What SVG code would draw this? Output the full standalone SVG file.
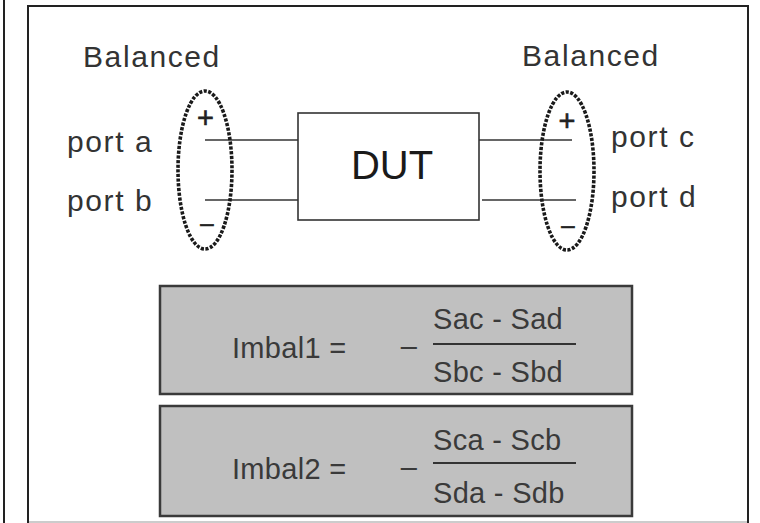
<svg xmlns="http://www.w3.org/2000/svg" width="760" height="523" viewBox="0 0 760 523">
<style>
.lbl{font-family:"Liberation Sans",Arial,sans-serif;font-size:30px;fill:#333;letter-spacing:1.6px}
.fx{font-family:"Liberation Sans",Arial,sans-serif;font-size:29px;fill:#3a3a3a;letter-spacing:0.3px}
.wire{stroke:#333;stroke-width:1.6;fill:none}
.bal{fill:none;stroke:#1a1a1a;stroke-width:3.6;stroke-dasharray:3.2 1.5}
.box{fill:#c0c0c0;stroke:#3a3a3a;stroke-width:2.5}
.sign{font-family:"Liberation Sans",Arial,sans-serif;fill:#222;stroke:#222;stroke-width:0.6}
</style>
<rect x="0" y="0" width="760" height="523" fill="#fff"/>
<g id="frame">
<line x1="4" y1="0" x2="4" y2="523" stroke="#222" stroke-width="2"/>
<path d="M28 523 V6 H748 V523" fill="none" stroke="#222" stroke-width="2"/>
<line x1="29" y1="522" x2="747" y2="522" stroke="#bbb" stroke-width="1.5"/>
</g>
<g id="connectors">
<line class="wire" x1="205" y1="140" x2="298" y2="140"/>
<line class="wire" x1="205" y1="200" x2="298" y2="200"/>
<line class="wire" x1="479" y1="140" x2="572" y2="140"/>
<line class="wire" x1="482" y1="200" x2="576" y2="200"/>
</g>
<g id="dut">
<rect x="298" y="113" width="181" height="107" fill="#fff" stroke="#333" stroke-width="1.6"/>
<text x="392" y="179" text-anchor="middle" font-family="'Liberation Sans',Arial,sans-serif" font-size="40" fill="#1a1a1a">DUT</text>
</g>
<g id="left-port">
<text class="lbl" x="83" y="67">Balanced</text>
<text class="lbl" x="67" y="152">port a</text>
<text class="lbl" x="67" y="211">port b</text>
<ellipse class="bal" cx="205" cy="170" rx="27" ry="79"/>
<text class="sign" x="205.5" y="128" font-size="29" text-anchor="middle">+</text>
<text class="sign" x="207" y="231" font-size="24" text-anchor="middle">–</text>
</g>
<g id="right-port">
<text class="lbl" x="522" y="66">Balanced</text>
<text class="lbl" x="611" y="147">port c</text>
<text class="lbl" x="611" y="207">port d</text>
<ellipse class="bal" cx="567" cy="171" rx="27" ry="79"/>
<text class="sign" x="567" y="131" font-size="29" text-anchor="middle">+</text>
<text class="sign" x="568" y="233" font-size="24" text-anchor="middle">–</text>
</g>
<g id="imbal1">
<rect class="box" x="160" y="286" width="472" height="108"/>
<text class="fx" x="232" y="358" font-size="33">Imbal1 =</text>
<text class="fx" x="409" y="356" font-size="24" text-anchor="middle">–</text>
<text class="fx" x="433" y="329">Sac - Sad</text>
<line x1="433" y1="344" x2="576" y2="344" stroke="#333" stroke-width="2"/>
<text class="fx" x="433" y="382">Sbc - Sbd</text>
</g>
<g id="imbal2">
<rect class="box" x="160" y="406" width="472" height="110"/>
<text class="fx" x="232" y="479" font-size="33">Imbal2 =</text>
<text class="fx" x="409" y="477" font-size="24" text-anchor="middle">–</text>
<text class="fx" x="433" y="450">Sca - Scb</text>
<line x1="433" y1="463" x2="576" y2="463" stroke="#333" stroke-width="2"/>
<text class="fx" x="433" y="503">Sda - Sdb</text>
</g>
</svg>
